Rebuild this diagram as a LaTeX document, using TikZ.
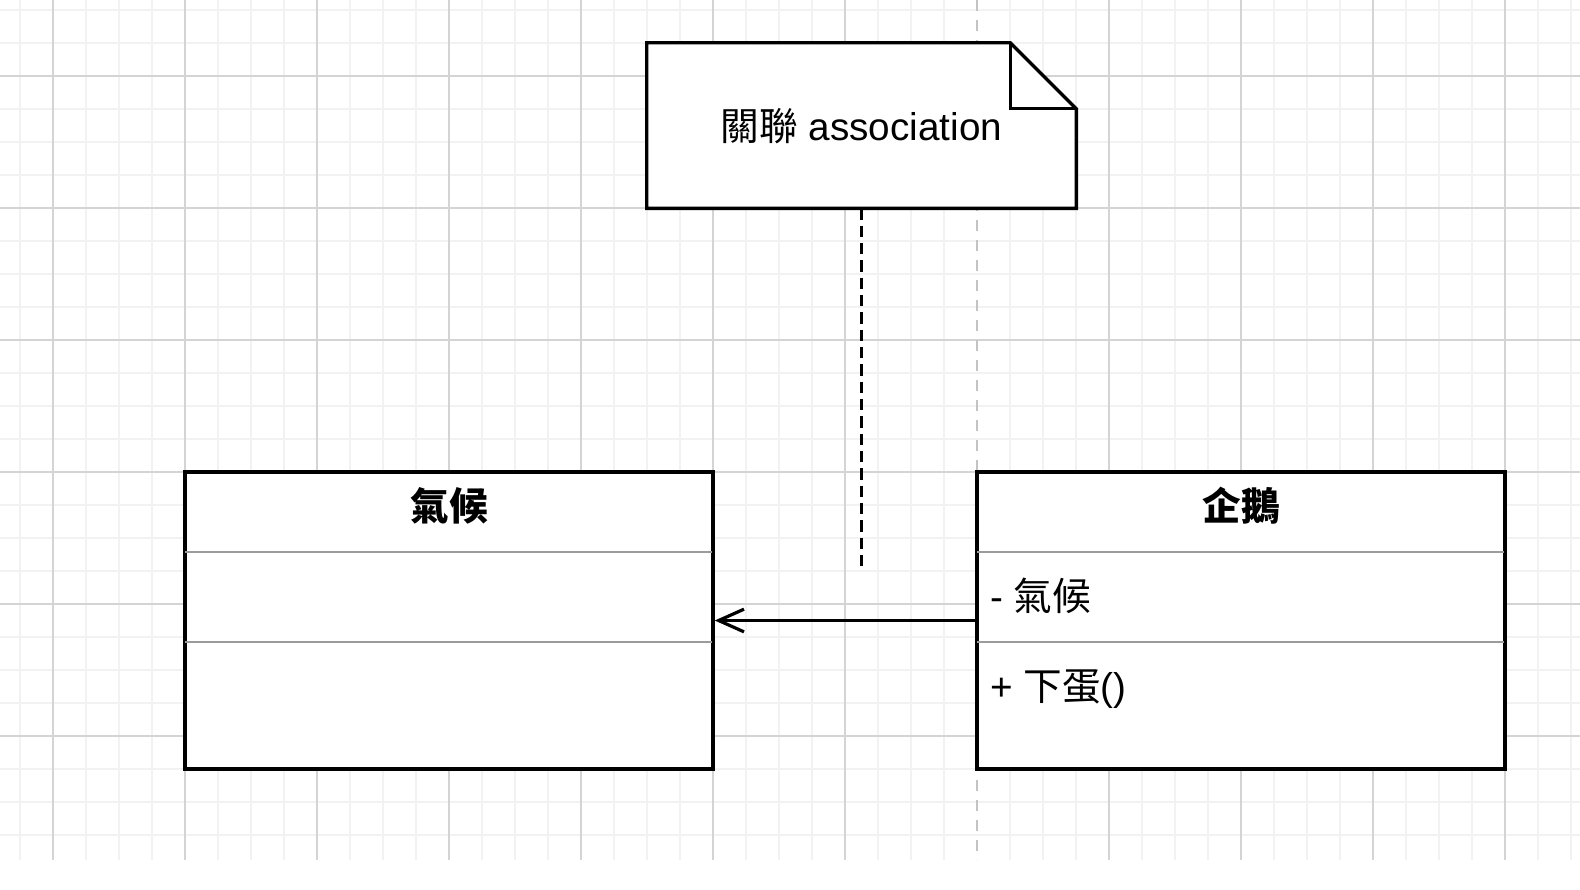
\documentclass[tikz,border=0pt]{standalone}
\usepackage{fontspec}
\setmainfont{Liberation Sans}
\newfontfamily\cjk{Noto Sans CJK TC}
\usetikzlibrary{arrows.meta}
\definecolor{gridminor}{RGB}{242,242,242}
\definecolor{gridmajor}{RGB}{212,212,212}
\definecolor{sepgray}{RGB}{155,155,155}
\definecolor{pagebreak}{RGB}{195,195,195}
\begin{document}
\begin{tikzpicture}[x=0.75pt,y=-0.75pt,
  gridminorline/.style={draw=gridminor,line width=1.6pt},
  gridmajorline/.style={draw=gridmajor,line width=1.1pt},
  pagebreakline/.style={draw=pagebreak,line width=1.6pt,dash pattern=on 8.25pt off 6.75pt},
  classbox/.style={draw=black,line width=2.6pt,fill=white,minimum width=396pt,minimum height=222.75pt,inner sep=0pt},
  notebody/.style={draw=none,minimum width=321.75pt,minimum height=123.75pt,inner sep=0pt},
  noteline/.style={draw=black,line width=2.6pt,line join=miter,fill=white},
  sepline/.style={draw=sepgray,line width=2.2pt,shorten >=2pt,shorten <=1pt},
  hdrtext/.style={font=\fontsize{29}{34}\selectfont\cjk\bfseries,inner sep=0pt,anchor=base},
  membertext/.style={font=\fontsize{29}{34}\selectfont,inner sep=0pt,anchor=base west},
  notetext/.style={font=\fontsize{29}{34}\selectfont,inner sep=0pt,anchor=base},
  assocarrow/.style={draw=black,line width=2.4pt,-{Straight Barb[length=19pt,width=17pt,line width=2.4pt]}},
  dashlink/.style={draw=black,line width=2.6pt,dash pattern=on 8.5pt off 4.5pt}
]
\useasboundingbox (0,0) rectangle (1580,889);
\fill[white] (0,0) rectangle (1580,889);
% grid
\foreach \i in {0,...,47} { \ifnum\i=29\else \draw[gridminorline] (20+33*\i,0) -- (20+33*\i,860);\fi }
\foreach \j in {0,...,25} { \draw[gridminorline] (0,10+33*\j) -- (1580,10+33*\j); }
\foreach \i in {0,...,11} { \ifnum\i=7\else \draw[gridmajorline] (53+132*\i,0) -- (53+132*\i,860);\fi }
\foreach \j in {0,...,5} { \draw[gridmajorline] (0,76+132*\j) -- (1580,76+132*\j); }
% page break
\draw[pagebreakline] (977,0) -- (977,860);

% note
\node[notebody] (note) at (861.5,125.5) {};
\draw[noteline] (note.south west) -- (note.north west) -- ([xshift=-49.5pt]note.north east)
  -- ([yshift=-49.5pt]note.north east) -- (note.south east) -- cycle;
\draw[noteline,fill=none] ([xshift=-49.5pt]note.north east) -- ([xshift=-49.5pt,yshift=-49.5pt]note.north east)
  -- ([yshift=-49.5pt]note.north east);
\node[notetext] (notelabel) at (861.5,140) {{\cjk 關聯} association};

% classes
\node[classbox] (clima) at (449,620.5) {};
\node[classbox] (penguin) at (1241,620.5) {};
\draw[sepline] (clima.west |- 0,552) -- (clima.east |- 0,552);
\draw[sepline] (clima.west |- 0,642) -- (clima.east |- 0,642);
\draw[sepline] (penguin.west |- 0,552) -- (penguin.east |- 0,552);
\draw[sepline] (penguin.west |- 0,642) -- (penguin.east |- 0,642);
\node[hdrtext] (climaname) at (449,520.5) {氣候};
\node[hdrtext] (penguinname) at (1241,520.5) {企鵝};
\node[membertext] (attr) at (990,610) {- {\cjk 氣候}};
\node[membertext] (oper) at (990,700) {+ {\cjk 下蛋}()};

% connectors
\coordinate (dashend) at (861.5,571);
\draw[dashlink] (note.south) -- (dashend);
\draw[assocarrow] (penguin.west) -- (clima.east);
\end{tikzpicture}
\end{document}
